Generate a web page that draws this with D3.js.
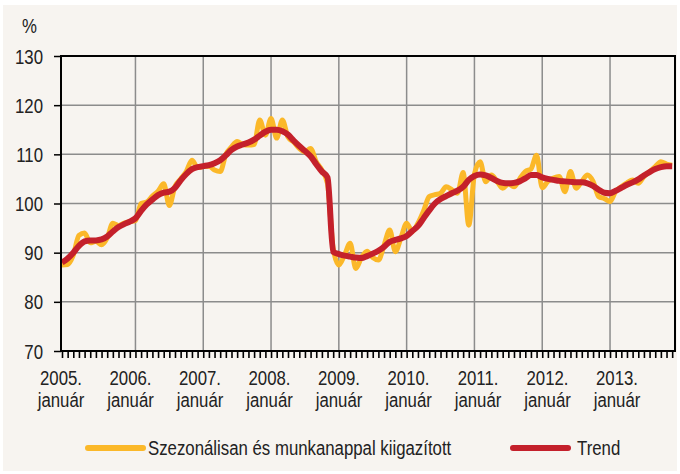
<!DOCTYPE html>
<html>
<head>
<meta charset="utf-8">
<script src="https://cdn.jsdelivr.net/npm/d3@7"></script>
<style>
  body { margin: 0; background: #fff; }
  svg text { font-family: "Liberation Sans", Arial, sans-serif; fill: #222; }
</style>
</head>
<body>
<svg id="chart" width="680" height="474"></svg>
<script>
// évek felirata az x tengelyen
const yearLabels = ['2005.', '2006.', '2007.', '2008.', '2009.', '2010.', '2011.', '2012.', '2013.'];
const monthLabel = 'január';

// y tengely osztásai
const yTicks = [70, 80, 90, 100, 110, 120, 130];

// havi adatok, 2005. január-tól
const seasonal = [
  87.5, 87.6, 89.5, 93.5, 94.0, 92.0, 92.3, 91.6, 93.0, 96.0, 95.5, 96.0,
  96.3, 96.5, 100.0, 100.3, 101.5, 102.5, 104.0, 99.6, 103.5, 105.0, 106.5, 108.8,
  107.3, 107.5, 107.6, 106.8, 106.5, 110.0, 111.5, 112.6, 112.0, 111.9, 112.0, 117.0,
  113.9, 117.3, 113.3, 117.0, 113.5, 112.5, 111.2, 110.5, 111.2, 108.5, 106.8, 104.0,
  90.8, 87.5, 89.5, 91.9, 86.8, 89.0, 90.3, 89.0, 88.5, 91.5, 94.6, 90.2,
  93.0, 96.0, 94.3, 96.0, 98.5, 101.4, 101.8, 102.1, 103.4, 102.8, 102.1, 106.3,
  95.6, 106.0, 108.5, 104.4, 105.8, 104.5, 103.1, 104.0, 103.4, 105.0, 106.5, 107.0,
  109.8, 103.2, 104.5, 105.2, 105.5, 102.4, 106.5, 103.1, 104.5, 105.8, 104.5, 101.4,
  101.0, 100.4, 102.5, 103.4, 104.2, 104.8, 104.1, 105.5, 106.5, 107.5, 108.5, 108.0,
  107.8
];
const trend = [
  88.0, 88.8, 90.0, 91.4, 92.3, 92.5, 92.5, 92.7, 93.3, 94.3, 95.2, 95.8,
  96.3, 97.0, 98.5, 99.8, 100.8, 101.7, 102.2, 102.4, 103.2, 104.7, 106.0, 107.0,
  107.4, 107.6, 107.8, 108.2, 108.8, 109.8, 110.9, 111.6, 112.0, 112.4, 113.0, 113.8,
  114.6, 115.0, 115.0, 114.7, 114.0, 112.8, 111.7, 110.7, 109.6, 108.0, 106.5, 105.3,
  90.2, 89.7, 89.4, 89.2, 89.0, 88.9, 89.3, 89.8, 90.4, 91.2, 92.2, 92.6,
  92.9, 93.4, 94.4, 95.4, 97.0, 98.6, 100.0, 100.9, 101.5, 102.1, 102.6, 103.4,
  104.8, 105.6, 105.9, 105.7, 105.2, 104.6, 104.2, 104.1, 104.2, 104.5, 105.1, 105.8,
  105.8, 105.3, 105.0, 104.8, 104.6, 104.5, 104.4, 104.3, 104.3, 104.1, 103.6, 102.8,
  102.2, 102.1, 102.6, 103.2, 103.8, 104.3, 104.9, 105.7, 106.4, 107.0, 107.4, 107.6,
  107.6
];

const legendLabels = ['Szezonálisan és munkanappal kiigazított', 'Trend'];
const seriesColors = ['#fbb829', '#c4202b'];

const fontSize = 21;
const squeeze = 0.8;   // keskeny betű utánzása

const svg = d3.select('#chart');
const margin = {top: 56, left: 61};
const width = 614, height = 295;

// szöveg elhelyezése vízszintesen összenyomva
function narrowText(parent, tx, ty, str, anchor) {
  return parent.append('text')
    .attr('transform', `translate(${tx},${ty}) scale(${squeeze},1)`)
    .attr('text-anchor', anchor || 'start')
    .attr('font-size', fontSize)
    .text(str);
}

// háttér
svg.append('rect').attr('x', 3).attr('y', 5).attr('width', 674).attr('height', 466).attr('fill', '#f7f4f0');

const g = svg.append('g').attr('transform', `translate(${margin.left},${margin.top})`);

const x = d3.scaleLinear().domain([0, 108.5]).range([1, width]);
const y = d3.scaleLinear().domain([70, 130]).range([height, 0]);
const labelX = d3.scaleLinear().domain([0, yearLabels.length - 1]).range([0, 556]);

// rács
g.append('g').selectAll('line').data(yTicks.slice(1, -1)).enter().append('line')
  .attr('x1', 0).attr('x2', width).attr('y1', d => y(d)).attr('y2', d => y(d))
  .attr('stroke', '#8c8c8c').attr('stroke-width', 1.5);
g.append('g').selectAll('line').data(d3.range(1, yearLabels.length)).enter().append('line')
  .attr('x1', k => x(12 * k + 1)).attr('x2', k => x(12 * k + 1)).attr('y1', 0).attr('y2', height)
  .attr('stroke', '#8c8c8c').attr('stroke-width', 1.5);

// vonalak
const line = d3.line().x((d, i) => x(i)).y(d => y(d)).curve(d3.curveMonotoneX);
g.append('path').datum(seasonal).attr('d', line).attr('fill', 'none')
  .attr('stroke', seriesColors[0]).attr('stroke-width', 5).attr('stroke-linejoin', 'round');
g.append('path').datum(trend).attr('d', line).attr('fill', 'none')
  .attr('stroke', seriesColors[1]).attr('stroke-width', 6).attr('stroke-linejoin', 'round');

// keret
g.append('rect').attr('width', width).attr('height', height)
  .attr('fill', 'none').attr('stroke', '#000').attr('stroke-width', 2);

// x tengely: havi osztások
const axisX = g.append('g').attr('transform', `translate(0,${height})`)
  .call(d3.axisBottom(x).tickValues(d3.range(0, 109)).tickSize(7).tickFormat(''));
axisX.select('.domain').remove();
axisX.selectAll('line').attr('stroke', '#000').attr('stroke-width', 1.6);

// y tengely
const axisY = g.append('g')
  .call(d3.axisLeft(y).tickValues(yTicks).tickSize(7).tickFormat(''));
axisY.select('.domain').remove();
axisY.selectAll('line').attr('stroke', '#000').attr('stroke-width', 1.5);
yTicks.forEach(v => narrowText(g, -18, y(v) + 7.5, v, 'end'));

narrowText(g, -39, -23, '%');

// év feliratok
yearLabels.forEach((lab, i) => {
  narrowText(g, labelX(i), height + 34, lab, 'middle');
  narrowText(g, labelX(i), height + 56, monthLabel, 'middle');
});

// jelmagyarázat
const legend = svg.append('g');
const legendPos = [88, 513];
const legendGap = [60, 64];
legendLabels.forEach((name, i) => {
  legend.append('line').attr('x1', legendPos[i]).attr('x2', legendPos[i] + 55)
    .attr('y1', 448).attr('y2', 448).attr('stroke', seriesColors[i])
    .attr('stroke-width', 6).attr('stroke-linecap', 'round');
  narrowText(legend, legendPos[i] + legendGap[i], 455, name);
});
</script>
</body>
</html>
